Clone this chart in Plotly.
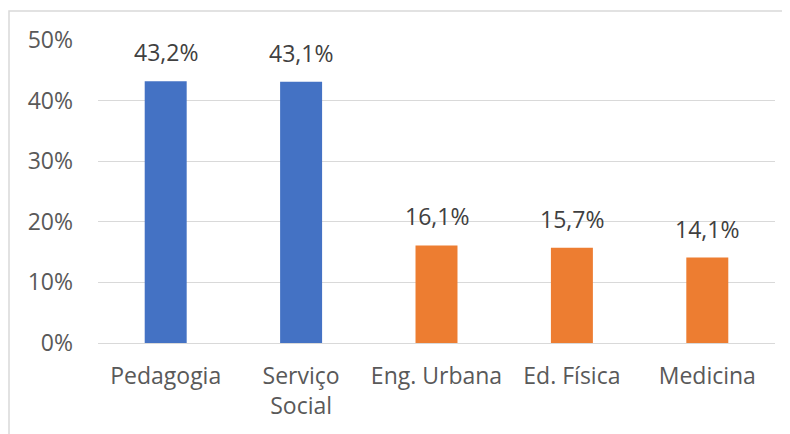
import plotly.graph_objects as go

categories = ["Pedagogia", "Serviço<br>Social", "Eng. Urbana", "Ed. Física", "Medicina"]
values = [43.2, 43.1, 16.1, 15.7, 14.1]
colors = ["#4472C4", "#4472C4", "#ED7D31", "#ED7D31", "#ED7D31"]
y_ticks = [0, 10, 20, 30, 40, 50]
y_tick_labels = [f"{t}%" for t in y_ticks]

FONT = "Open Sans"
TXT = "#595959"
FS = 23

fig = go.Figure()
fig.add_trace(go.Bar(
    x=categories, y=values, marker=dict(color=colors, line=dict(width=0)),
    width=0.31, showlegend=False, hoverinfo="skip",
))
for c, v in zip(categories, values):
    fig.add_annotation(
        x=c, y=v, text=f"{v:.1f}".replace(".", ",") + "%", showarrow=False,
        yanchor="bottom", yshift=11, font=dict(family=FONT, size=FS, color="#404040"),
    )

# page body has an 8px offset; plot area in page: x 98..775, y 40..343
W, H = 790, 434
L, T, R, B = 90, 32, 767, 335
fig.update_layout(
    width=W, height=H,
    margin=dict(l=L, r=W - R, t=T, b=H - B),
    paper_bgcolor="white", plot_bgcolor="white",
    font=dict(family=FONT, size=FS, color=TXT),
    xaxis=dict(showgrid=False, showline=True, linecolor="#D9D9D9", linewidth=1,
               ticks="", tickfont=dict(size=FS, color=TXT), ticklabelstandoff=12),
    yaxis=dict(range=[0, 50], tickvals=y_ticks, ticktext=y_tick_labels, showgrid=True,
               gridcolor="#D9D9D9", gridwidth=1, zeroline=False, showline=False,
               tickfont=dict(size=FS, color=TXT), ticklabelstandoff=24),
    shapes=[dict(type="rect", xref="paper", yref="paper",
                 x0=(1 - L) / (R - L), x1=2, y0=-2, y1=(B - 3) / (B - T),
                 line=dict(color="#D9D9D9", width=1.5), fillcolor="rgba(0,0,0,0)", layer="below")],
)
fig.write_html("out.html")
